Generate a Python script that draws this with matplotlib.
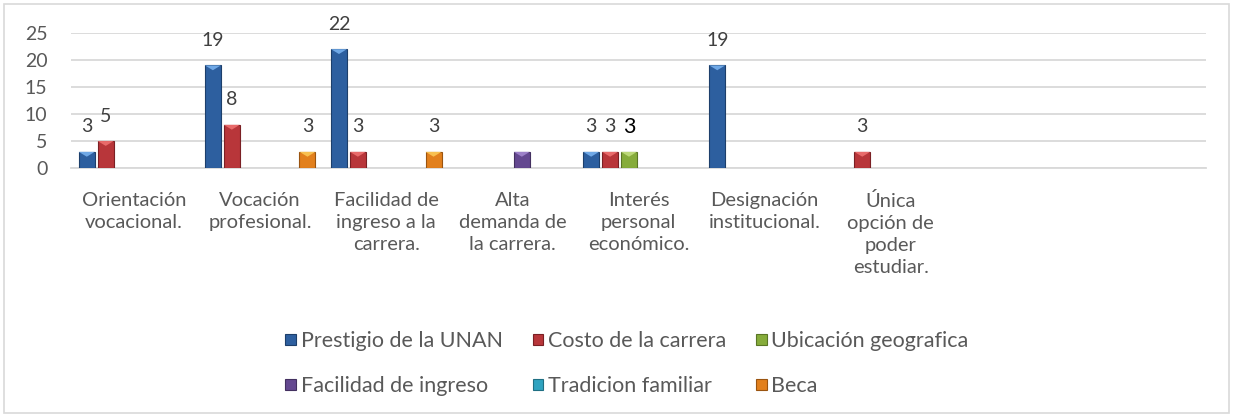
import numpy as np
import matplotlib.pyplot as plt
from matplotlib.patches import Rectangle, Polygon

plt.rcParams['font.family'] = ['Lato', 'DejaVu Sans']

# ---------------- datos ----------------
categorias = [
    "Orientación\nvocacional.",
    "Vocación\nprofesional.",
    "Facilidad de\ningreso a la\ncarrera.",
    "Alta\ndemanda de\nla carrera.",
    "Interés\npersonal\neconómico.",
    "Designación\ninstitucional.",
    "Única\nopción de\npoder\nestudiar.",
    "",
    "",
]
series = ["Prestigio de la UNAN", "Costo de la carrera", "Ubicación geografica",
          "Facilidad de ingreso", "Tradicion familiar", "Beca"]
prestigio = [3, 19, 22, None, 3, 19, None, None, None]
costo = [5, 8, 3, None, 3, None, 3, None, None]
ubicacion = [None, None, None, None, 3, None, None, None, None]
facilidad = [None, None, None, 3, None, None, None, None, None]
tradicion = [None] * 9
beca = [None, 3, 3, None, None, None, None, None, None]

valores = [prestigio, costo, ubicacion, facilidad, tradicion, beca]
colores = ["#2d5f9f", "#b8363a", "#86ac3b", "#644890", "#2fa3c0", "#e2801d"]
bordes = ["#1d3f6b", "#7a2024", "#5a7626", "#433060", "#1f6f83", "#9a5410"]
claros = ["#6fa8e6", "#e86a6a", "#bcd878", "#9c80c8", "#80d4ea", "#f8c050"]
con_etiqueta = [True, True, True, False, True, True]

gris = "#595959"

fig = plt.figure(figsize=(12.33, 4.17), dpi=100)
ax = fig.add_axes([0.0576, 0.597, 0.978 - 0.0576, 0.921 - 0.597])

x = np.arange(len(categorias))
paso = 0.15
ancho = 0.127
barras = []
for k, (nombre, vals) in enumerate(zip(series, valores)):
    v = np.array([np.nan if a is None else a for a in vals], dtype=float)
    pos = x + (k - 2.5) * paso
    b = ax.bar(pos, v, width=ancho, color=colores[k], edgecolor=bordes[k],
               linewidth=0.8, label=nombre, zorder=3)
    barras.append(b)
    for xi, vi in zip(pos, v):
        if np.isnan(vi):
            continue
        # tapa triangular clara
        tri = Polygon([[xi - ancho / 2, vi], [xi + ancho / 2, vi], [xi, vi - 0.9]],
                      closed=True, facecolor=claros[k], edgecolor='none', zorder=4)
        ax.add_patch(tri)
        if con_etiqueta[k]:
            if k == 2:
                ax.annotate(f"{int(vi)}", (xi, vi), xytext=(0, 18), textcoords='offset points',
                            ha='center', va='center', fontsize=15.5, color='black')
            else:
                ax.annotate(f"{int(vi)}", (xi, vi), xytext=(0, 18), textcoords='offset points',
                            ha='center', va='center', fontsize=14, color="#404040")

ax.set_xlim(-0.5, len(categorias) - 0.5)
ax.set_ylim(0, 25)
ax.set_yticks([0, 5, 10, 15, 20, 25])
ax.set_xticks(x)
ax.set_xticklabels(categorias, fontsize=14.5, color=gris, multialignment='center', linespacing=1.36)
ax.tick_params(axis='x', length=0, pad=17)
ax.tick_params(axis='y', length=0, pad=17, labelsize=14, labelcolor=gris)
ax.grid(axis='y', color="#d9d9d9", linewidth=1.3, zorder=0)
for s in ['top', 'right', 'left']:
    ax.spines[s].set_visible(False)
ax.spines['bottom'].set_color("#d9d9d9")
ax.spines['bottom'].set_linewidth(1.3)

# leyenda por filas: matplotlib llena por columnas, se reordena
orden = [0, 3, 1, 4, 2, 5]
leg = fig.legend([barras[i] for i in orden], [series[i] for i in orden],
                 loc='center', bbox_to_anchor=(0.5085, 0.128), ncol=3, frameon=False,
                 fontsize=15.5, labelcolor=gris, handlelength=0.5, handleheight=0.45,
                 handletextpad=0.2, columnspacing=1.4, labelspacing=1.15)

# borde exterior del gráfico
fig.patches.append(Rectangle((4 / 1233, 4 / 417), 1 - 8 / 1233, 1 - 8 / 417,
                             transform=fig.transFigure, fill=False,
                             edgecolor="#d9d9d9", linewidth=1.2))

fig.savefig("out.png", dpi=100)
